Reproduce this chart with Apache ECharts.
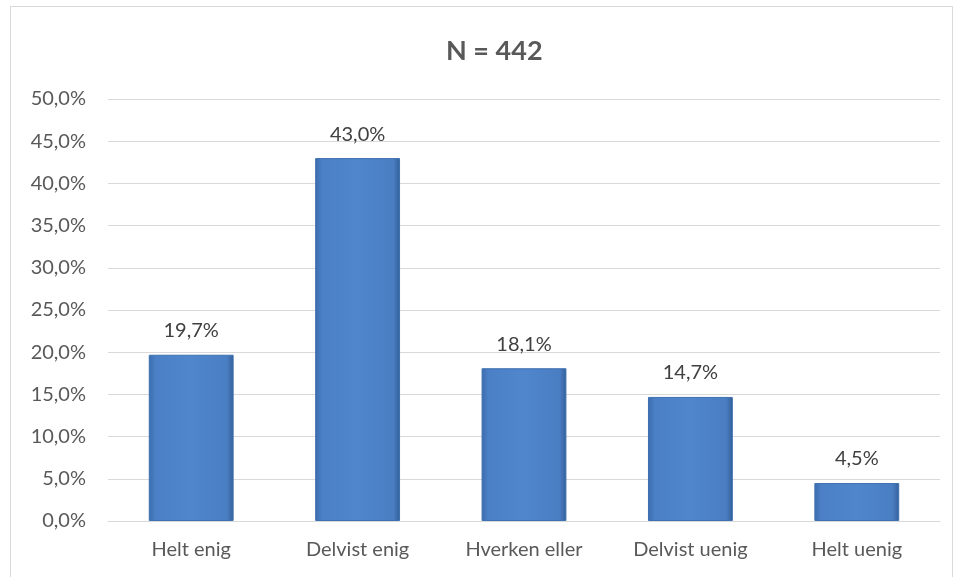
<!DOCTYPE html>
<html><head><meta charset="utf-8">
<script src="https://cdn.jsdelivr.net/npm/echarts@6/dist/echarts.min.js"></script>
<style>
html,body{margin:0;padding:0;background:#fff;}
#frame{position:absolute;left:10px;top:6px;width:943px;height:580px;border:1px solid #d9d9d9;box-sizing:border-box;}
#c{position:absolute;left:0;top:0;width:955px;height:577px;}
</style></head>
<body>
<div id="frame"></div>
<div id="c"></div>
<script>
const categories = ['Helt enig','Delvist enig','Hverken eller','Delvist uenig','Helt uenig'];
const values = [19.7, 43.0, 18.1, 14.7, 4.5];
const title = 'N = 442';

const fmt = v => v.toFixed(1).replace('.', ',') + '%';
const chart = echarts.init(document.getElementById('c'));
chart.setOption({
  animation:false,
  title:{text:title,left:441,top:33,textStyle:{fontFamily:'Lato',fontSize:27,fontWeight:'bold',color:'#595959'}},
  grid:{left:108,right:15,top:99,bottom:56},
  xAxis:{type:'category',data:categories,
    axisLine:{lineStyle:{color:'#d9d9d9'}},axisTick:{show:false},
    axisLabel:{fontFamily:'Lato',fontSize:20,color:'#595959',margin:19}},
  yAxis:{type:'value',min:0,max:50,interval:5,
    axisLabel:{fontFamily:'Lato',fontSize:20,color:'#595959',formatter:v=>fmt(v),margin:22},
    splitLine:{lineStyle:{color:'#d9d9d9'}},axisLine:{show:false},axisTick:{show:false}},
  series:[{type:'bar',data:values,barWidth:'51%',
    itemStyle:{color:new echarts.graphic.LinearGradient(0,0,1,0,[
      {offset:0,color:'#3a6cad'},{offset:0.08,color:'#4b80c6'},{offset:0.5,color:'#4f86cc'},{offset:0.92,color:'#4a7ec3'},{offset:1,color:'#335f99'}]),
      borderColor:'#3f70b0',borderWidth:1},
    label:{show:true,position:'top',distance:14,formatter:p=>fmt(p.value),fontFamily:'Lato',fontSize:20,color:'#404040'}}]
});
</script>
</body></html>
